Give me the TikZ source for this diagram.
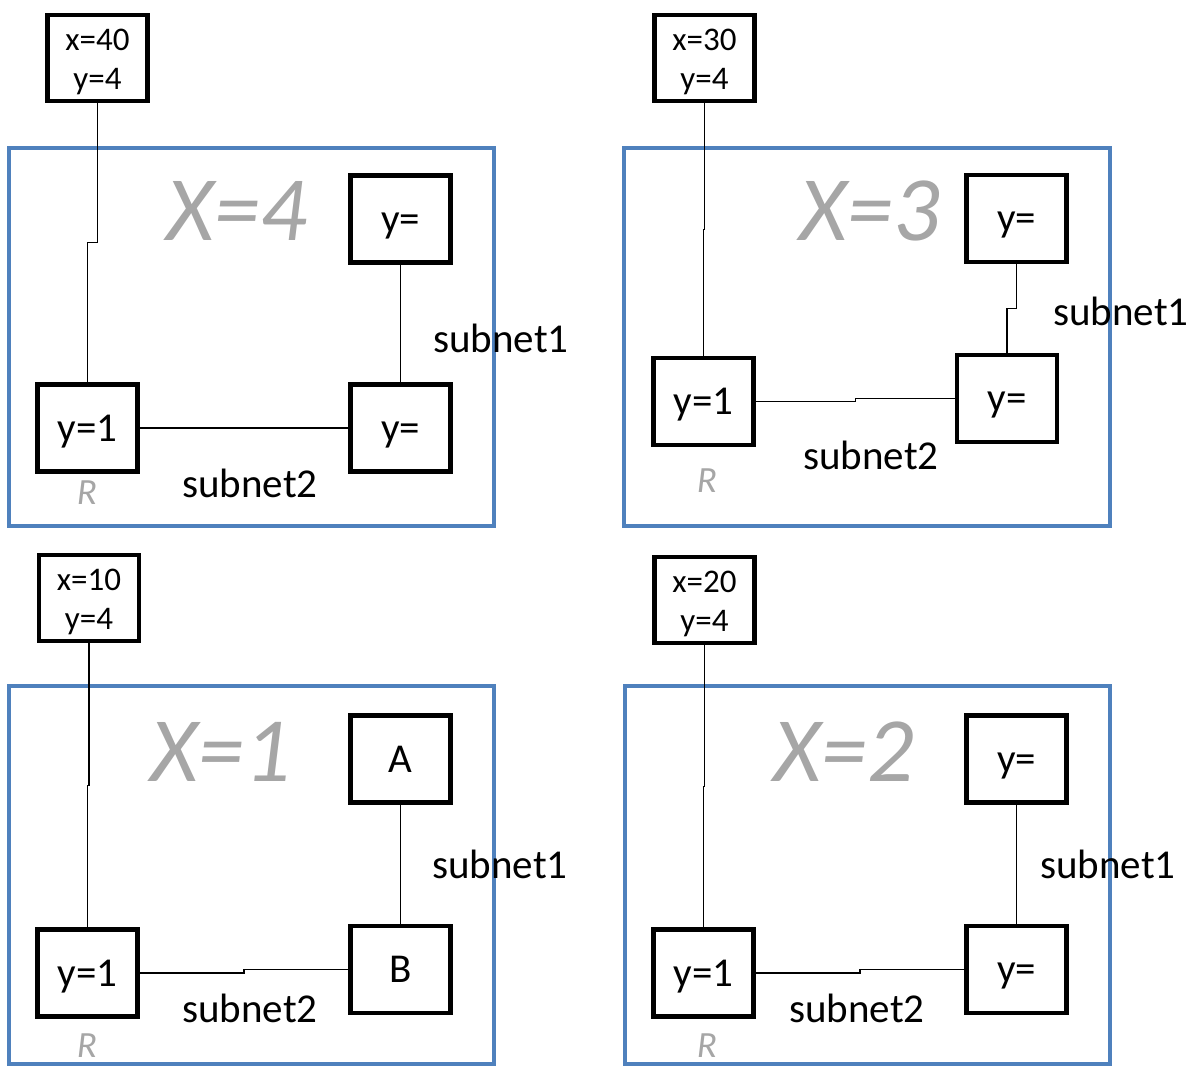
\documentclass[tikz,border=0pt]{standalone}
\usepackage{fontspec}
\setmainfont{Carlito}
\usetikzlibrary{calc}

\definecolor{panelblue}{HTML}{4F81BD}
\definecolor{labelgrey}{HTML}{A6A6A6}

\newcommand{\gwlabel}[2]{\rule{0pt}{29pt}x=#1\\y=#2}

\tikzset{
  host/.style={draw, line width=4.5pt, minimum width=100pt, minimum height=87pt,
    inner sep=0pt, text height=32pt, text depth=6pt, font=\fontsize{41}{49}\selectfont},
  gw/.style={draw, line width=4.5pt, minimum width=100pt, minimum height=86pt,
    inner sep=0pt, align=center, font=\fontsize{33}{39}\selectfont},
  panel/.style={draw=panelblue, line width=4pt},
  biglabel/.style={text=labelgrey, font=\fontsize{92}{100}\selectfont\itshape},
  rlabel/.style={text=labelgrey, font=\fontsize{37}{44}\selectfont\itshape},
  netlabel/.style={font=\fontsize{41}{49}\selectfont},
  link/.style={line width=1.2pt},
  vjog/.style={to path={(\tikztostart) |- ($(\tikztostart)!0.5!(\tikztotarget)$) -| (\tikztotarget)}},
  hjog/.style={to path={(\tikztostart) -| ($(\tikztostart)!0.5!(\tikztotarget)$) |- (\tikztotarget)}},
}

\begin{document}
\begin{tikzpicture}[x=1pt, y=-1pt]
  \useasboundingbox (0,0) rectangle (1197,1066);

  % X=4
  \draw[panel] (9,148) rectangle (494,526);
  \node[gw] (t4) at (97.5,58) {\gwlabel{40}{4}};
  \node[biglabel] (x4) at (237,211) {X=4};
  \node[host] (a4) at (400.5,219) {y=};
  \node[host] (b4) at (400.5,428) {y=};
  \node[host] (r4) at (87.5,428) {y=1};
  \draw[link] (t4.south) to[vjog] (r4.north);
  \draw[link] (a4.south) to[vjog] (b4.north);
  \draw[link] (r4.east) to[hjog] (b4.west);
  \node[netlabel] (s14) at (501,338) {subnet1};
  \node[netlabel] (s24) at (250,483) {subnet2};
  \node[rlabel] (rr4) at (87,493) {R};

  % X=3
  \draw[panel] (624,148) rectangle (1110,526);
  \node[gw] (t3) at (704.5,58) {\gwlabel{30}{4}};
  \node[biglabel] (x3) at (870,211) {X=3};
  \node[host] (a3) at (1016.5,218.5) {y=};
  \node[host] (b3) at (1007,398.5) {y=};
  \node[host] (r3) at (703.5,401.5) {y=1};
  \draw[link] (t3.south) to[vjog] (r3.north);
  \draw[link] (a3.south) to[vjog] (b3.north);
  \draw[link] (r3.east) to[hjog] (b3.west);
  \node[netlabel] (s13) at (1121,311) {subnet1};
  \node[netlabel] (s23) at (871,455) {subnet2};
  \node[rlabel] (rr3) at (707,481) {R};

  % X=1
  \draw[panel] (9,686) rectangle (494,1064);
  \node[gw] (t1) at (89,598) {\gwlabel{10}{4}};
  \node[biglabel] (x1) at (221,752) {X=1};
  \node[host] (a1) at (400.5,759) {A};
  \node[host] (b1) at (400.5,969.5) {B};
  \node[host] (r1) at (87.5,973) {y=1};
  \draw[link] (t1.south) to[vjog] (r1.north);
  \draw[link] (a1.south) to[vjog] (b1.north);
  \draw[link] (r1.east) to[hjog] (b1.west);
  \node[netlabel] (s11) at (500,864) {subnet1};
  \node[netlabel] (s21) at (250,1008) {subnet2};
  \node[rlabel] (rr1) at (87,1046) {R};

  % X=2
  \draw[panel] (625,686) rectangle (1110,1064);
  \node[gw] (t2) at (704.5,600) {\gwlabel{20}{4}};
  \node[biglabel] (x2) at (844,752) {X=2};
  \node[host] (a2) at (1016.5,759) {y=};
  \node[host] (b2) at (1016.5,969.5) {y=};
  \node[host] (r2) at (703.5,973) {y=1};
  \draw[link] (t2.south) to[vjog] (r2.north);
  \draw[link] (a2.south) to[vjog] (b2.north);
  \draw[link] (r2.east) to[hjog] (b2.west);
  \node[netlabel] (s12) at (1108,864) {subnet1};
  \node[netlabel] (s22) at (857,1008) {subnet2};
  \node[rlabel] (rr2) at (707,1046) {R};
\end{tikzpicture}
\end{document}
